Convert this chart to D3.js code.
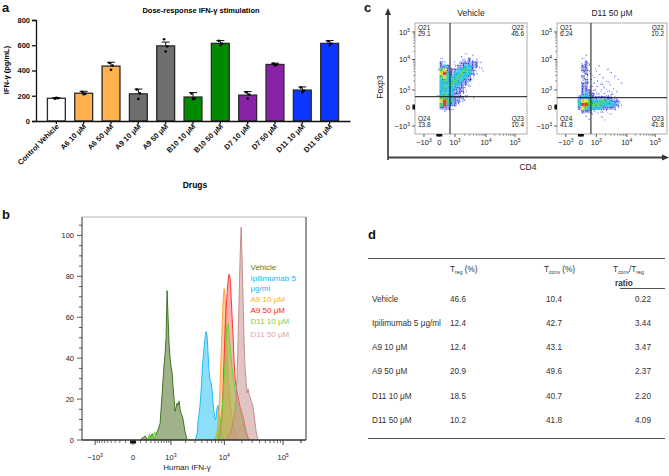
<!DOCTYPE html>
<html><head><meta charset="utf-8">
<script src="https://cdn.jsdelivr.net/npm/d3@7/dist/d3.min.js"></script>
<style>
html,body{margin:0;padding:0;background:#fff;}
svg{display:block;}
</style></head>
<body>
<svg id="fig" width="669" height="476" font-family="'Liberation Sans', Arial, Helvetica, sans-serif"></svg>
<script>
// ================= DATA =================
// Panel a: dose-response IFN-γ
const drugs = ["Control Vehicle","A6 10 μM","A6 50 μM","A9 10 μM","A9 50 μM","B10 10 μM","B10 50 μM","D7 10 μM","D7 50 μM","D11 10 μM","D11 50 μM"];
const ifnMean = [180,220,435,215,595,190,615,205,448,245,615];
const ifnSem = [5,15,30,38,30,35,22,28,10,25,22];
const ifnReps = [[177,180,183],[232,215,212],[460,440,405],[250,220,175],[648,590,550],[218,178,174],[635,612,598],[228,210,178],[455,448,440],[265,240,228],[632,612,598]];
const ifnTicks = [0,200,400,600,800];

// Panel b: IFN-γ histograms ([IFN-γ value, % of max])
const histNames = ["Vehicle","Ipilimumab 5 μg/ml","A9 10 μM","A9 50 μM","D11 10 μM","D11 50 μM"];
const histVehicle = [[94,0],[178,2],[236,0],[330,3],[377,0],[436,3],[490,5],[554,8],[623,22],[698,37],[737,42],[778,50],[821,73],[865,60],[911,47],[959,40],[1009,36],[1060,33],[1114,26],[1170,20],[1228,14],[1289,16],[1351,18],[1416,17],[1484,19],[1555,15],[1627,13],[1704,12],[1784,10],[1866,7],[1952,4],[2040,2],[2132,0]];
const histIpi = [[3018,0],[3285,3],[3426,9],[3573,13],[3726,17],[3885,24],[4050,33],[4223,40],[4400,45],[4587,50],[4780,53],[4980,51],[5190,42],[5408,33],[5630,29],[5866,28],[6110,24],[6365,18],[6630,13],[6903,10],[7190,11],[7483,16],[7790,17],[8110,12],[8440,7],[9150,2],[9910,0]];
const histA9lo = [[6903,0],[7190,2],[7483,4],[7790,10],[8110,16],[8440,27],[8790,42],[9150,56],[9520,68],[9910,74],[10310,70],[10730,56],[11170,42],[11620,31],[12090,24],[12580,20],[13090,15],[13620,11],[14170,7],[14740,5],[15950,2],[17260,0]];
const histA9hi = [[7790,0],[8440,4],[9150,12],[9520,25],[9910,40],[10310,55],[10730,64],[11170,72],[11620,78],[12090,81],[12580,79],[13090,70],[13620,60],[14170,50],[14740,38],[15320,30],[15950,26],[17260,21],[18680,16],[20200,13],[21860,9],[23640,4],[25570,1],[27660,0]];
const histD11lo = [[236,0],[262,3],[290,0],[400,4],[430,0],[6630,0],[7790,3],[8440,8],[9150,15],[9520,22],[9910,30],[10310,38],[10730,47],[11170,55],[11620,57],[12090,52],[12580,45],[13090,40],[13620,35],[14740,28],[15950,21],[17260,16],[18680,14],[20200,10],[21860,6],[23640,2],[25570,0]];
const histD11hi = [[10730,0],[12580,3],[14170,8],[15320,14],[15950,20],[16600,32],[17260,50],[17960,70],[18680,90],[19430,104],[20200,88],[21020,68],[21860,47],[22740,35],[23640,28],[24600,23],[25570,25],[26610,22],[27660,21],[28780,19],[29900,18],[31100,16],[32360,12],[33660,8],[34990,4],[36400,2],[37840,0]];
const bTickVals = [-1000,0,1000,10000,100000];
const bTickLabels = ["−10^3","0","10^3","10^4","10^5"];
const bYTicks = [0,20,40,60,80,100];

// Panel c: CD4 vs Foxp3 density (display channels 0-1024, 32x32 bins; 1 sparse .. 6 densest)
const cTitles = ["Vehicle","D11 50 μM"];
const cGridVehicle = [
"................................","................................","................................","................................",
"................................","................................","................................","................................",
"..............1.................",".............1..1...............",".......1.....11211..............",".......21..11222221.............",
".......232.12233221.............","......145222334321.1............",".......56323343321..............",".......4533343321...............",
".......3433433221...............",".......333433221................",".......343332211................",".......33332221.................",
"......134332211.................",".......44332221.1...............",".......56432211.................",".......463221...................",
".......2221.....................","........1.......................","................................","................................",
"................................","................................","................................","................................"];
const cGridD11 = [
"................................","................................","................................","................................",
"................................","................................","................................","................................",
"................................","........1.......................",".......11.......................",".......121......................",
".......221..1...................",".......221.1..1.................",".......121..1..1................",".......21.1..1..1...............",
".......121.1..1..1..............",".......2211.11.1..1.............",".......22111.1..1...............",".......222111.11.1..............",
"......12322111111...............","......233322222211..............","......3554333433221.............","......3664444333321.............",
"......254333322221..............",".......22211111.................","........1.1.1..1................",".........1...1..................",
"................................","................................","................................","................................"];
const cGateX = [320,316];
const cGateY = [344,335];
const cQuadNames = ["Q21","Q22","Q23","Q24"];
const cQuadVals = [["29.1","46.6","10.4","13.8"],["6.24","10.2","41.8","41.8"]];
const cXTickCh = [82,222,366,649,914];
const cYTickCh = [74,249,406,687,941];
const cTickLabels = ["−10^3","0","10^3","10^4","10^5"];

// Panel d: table
const tblRows = ["Vehicle","Ipilimumab 5 μg/ml","A9 10 μM","A9 50 μM","D11 10 μM","D11 50 μM"];
const tregPct = ["46.6","12.4","12.4","20.9","18.5","10.2"];
const tconvPct = ["10.4","42.7","43.1","49.6","40.7","41.8"];
const ratioVals = ["0.22","3.44","3.47","2.37","2.20","4.09"];

// ================= DRAWING =================
const svg = d3.select("#fig");
function panelLabel(t,x,y){ svg.append("text").attr("x",x).attr("y",y).attr("font-size",13).attr("font-weight","bold").attr("fill","#111").text(t); }
function sciLabel(sel, lab, supSize){
  const m = lab.match(/^(.*10)\^(\d)$/);
  if(!m){ sel.text(lab); return; }
  sel.append("tspan").text(m[1]);
  sel.append("tspan").attr("dy",-3).attr("font-size",supSize).text(m[2]);
}
panelLabel("a",2,12); panelLabel("b",2,219); panelLabel("c",364,12); panelLabel("d",368,239);

// ---------- Panel a ----------
const barColors = ["#ffffff","#ffb04f","#ffb04f","#6e6e6e","#6e6e6e","#008a00","#008a00","#8a22a8","#8a22a8","#0a36ff","#0a36ff"];
const ga = svg.append("g");
const xa = d3.scaleBand().domain(drugs).range([36,350]).paddingInner(0.345).paddingOuter(0.418);
const ya = d3.scaleLinear().domain([0,800]).range([121,20]);
ga.selectAll("rect.bar").data(drugs).join("rect").attr("class","bar")
  .attr("x",d=>xa(d)).attr("width",xa.bandwidth())
  .attr("y",(d,i)=>ya(ifnMean[i])).attr("height",(d,i)=>ya(0)-ya(ifnMean[i]))
  .attr("fill",(d,i)=>barColors[i]).attr("stroke","#2a2a2a").attr("stroke-width",1.3);
const jit = [-1.6,1.6,0];
drugs.forEach((d,i)=>{
  const cx = xa(d)+xa.bandwidth()/2, top = ya(ifnMean[i]+ifnSem[i]);
  ga.append("line").attr("x1",cx).attr("x2",cx).attr("y1",ya(ifnMean[i])).attr("y2",top).attr("stroke","#111").attr("stroke-width",1);
  ga.append("line").attr("x1",cx-4).attr("x2",cx+4).attr("y1",top).attr("y2",top).attr("stroke","#111").attr("stroke-width",1);
  ifnReps[i].forEach((v,j)=> ga.append("circle").attr("cx",cx+jit[j]).attr("cy",ya(v)).attr("r",1.3).attr("fill","#000"));
});
const ayAxis = ga.append("g").attr("transform","translate(36,0)")
  .call(d3.axisLeft(ya).tickValues(ifnTicks).tickSize(4).tickPadding(2));
ayAxis.selectAll("text").attr("font-size",7.5).attr("font-weight","bold").attr("font-family","'Liberation Sans', Arial, sans-serif").attr("fill","#111");
ayAxis.selectAll("line,path").attr("stroke","#111").attr("stroke-width",1.3);
const axAxis = ga.append("g").attr("transform","translate(0,121)")
  .call(d3.axisBottom(xa).tickSize(3).tickSizeOuter(0).tickFormat(""));
axAxis.selectAll("line,path").attr("stroke","#111").attr("stroke-width",1.3);
drugs.forEach(d=>{
  const cx = xa(d)+xa.bandwidth()/2;
  ga.append("text").attr("transform",`translate(${cx+3},127) rotate(-45)`).attr("text-anchor","end")
    .attr("font-size",7.5).attr("font-weight","bold").attr("fill","#111").text(d);
});
ga.append("text").attr("x",195).attr("y",188).attr("text-anchor","middle").attr("font-size",8.5).attr("font-weight","bold").text("Drugs");
ga.append("text").attr("x",201).attr("y",13).attr("text-anchor","middle").attr("font-size",7.5).attr("font-weight","bold").text("Dose-response IFN-γ stimulation");
ga.append("text").attr("transform","translate(9,70) rotate(-90)").attr("text-anchor","middle").attr("font-size",7.5).attr("font-weight","bold").text("IFN-γ (pg/mL)");

// ---------- Panel b ----------
const gb = svg.append("g");
const bx0=82,bx1=306,by0=217,by1=440;
const xb = d3.scaleSymlog().constant(300).domain([-1866,243000]).range([bx0,bx1]);
const yb = d3.scaleLinear().domain([0,109]).range([by1,by0]);
svg.append("defs").append("clipPath").attr("id","clipb").append("rect").attr("x",bx0).attr("y",by0).attr("width",bx1-bx0).attr("height",by1-by0);
const histSeries = [
  {data:histVehicle, stroke:"#2f6b10", fill:"#5f7f3c", op:0.6},
  {data:histIpi,     stroke:"#12b4ee", fill:"#2cc4f5", op:0.55},
  {data:histA9lo,    stroke:"#ff9a2a", fill:"#ffa848", op:0.55},
  {data:histA9hi,    stroke:"#ff2323", fill:"#ff5050", op:0.45},
  {data:histD11lo,   stroke:"#55e02a", fill:"#8ed24e", op:0.55},
  {data:histD11hi,   stroke:"#c08585", fill:"#c99494", op:0.55}
];
const legendColors = ["#4a7d2a","#19b5ec","#ffb020","#ff1a1a","#80d040","#e4a4a4"];
const areaB = d3.area().x(d=>xb(d[0])).y0(yb(0)).y1(d=>yb(d[1]));
const hg = gb.append("g").attr("clip-path","url(#clipb)");
histSeries.forEach(s=>{
  hg.append("path").attr("d",areaB(s.data)).attr("fill",s.fill).attr("fill-opacity",s.op)
    .attr("stroke",s.stroke).attr("stroke-width",0.9).attr("stroke-linejoin","round");
});
// frame
gb.append("line").attr("x1",bx0).attr("x2",bx1).attr("y1",by0).attr("y2",by0).attr("stroke","#999").attr("stroke-width",0.7);
gb.append("line").attr("x1",bx1).attr("x2",bx1).attr("y1",by0).attr("y2",by1).attr("stroke","#777").attr("stroke-width",1.5);
gb.append("line").attr("x1",bx0).attr("x2",bx1).attr("y1",by1).attr("y2",by1).attr("stroke","#333").attr("stroke-width",1.3);
gb.append("line").attr("x1",bx0).attr("x2",bx0).attr("y1",by0).attr("y2",by1).attr("stroke","#333").attr("stroke-width",1);
// y ticks
d3.range(0,110,5).forEach(v=>{
  const major = v%20===0;
  gb.append("line").attr("x1",bx0-(major?5:3)).attr("x2",bx0).attr("y1",yb(v)).attr("y2",yb(v)).attr("stroke","#333").attr("stroke-width",0.8);
});
bYTicks.forEach(v=> gb.append("text").attr("x",bx0-8).attr("y",yb(v)+2.6).attr("text-anchor","end").attr("font-size",7.5).attr("fill","#222").text(v));
// x ticks
const minorB = [];
[100,1000,10000,100000].forEach(dec=>{ for(let m=2;m<=9;m++){ minorB.push(m*dec); if(dec<1000) minorB.push(-m*dec);} });
[-100,100,200000].forEach(v=>minorB.push(v));
minorB.filter(v=>v>=-1866&&v<=243000).forEach(v=>{
  gb.append("line").attr("x1",xb(v)).attr("x2",xb(v)).attr("y1",by1).attr("y2",by1+3).attr("stroke","#333").attr("stroke-width",0.7);
});
bTickVals.forEach((v,i)=>{
  gb.append("line").attr("x1",xb(v)).attr("x2",xb(v)).attr("y1",by1).attr("y2",by1+5).attr("stroke","#333").attr("stroke-width",0.9);
  sciLabel(gb.append("text").attr("x",xb(v)).attr("y",460).attr("text-anchor","middle").attr("font-size",7.5).attr("fill","#222"), bTickLabels[i], 5.2);
});
gb.append("rect").attr("x",xb(0)-3).attr("y",by1+0.5).attr("width",6).attr("height",3).attr("fill","#111");
gb.append("text").attr("x",187).attr("y",470).attr("text-anchor","middle").attr("font-size",8).attr("fill","#222").text("Human IFN-γ");
// legend
const legY = [270,280.5,302,313,323.5,336.5];
histNames.forEach((n,i)=>{
  if(i===1){
    gb.append("text").attr("x",250.5).attr("y",legY[1]).attr("font-size",8).attr("fill",legendColors[1]).text("Ipilimumab 5");
    gb.append("text").attr("x",250.5).attr("y",291).attr("font-size",8).attr("fill",legendColors[1]).text("μg/ml");
  } else {
    gb.append("text").attr("x",250.5).attr("y",legY[i]).attr("font-size",8).attr("fill",legendColors[i]).text(n);
  }
});

// ---------- Panel c ----------
const gc = svg.append("g");
const cBoxes = [{x:415,y:23,w:112,h:111},{x:557,y:23,w:110,h:111}];
const densColors = {"3":"#22c2e2","4":"#44d25a","5":"#f0e22c","6":"#e6321e"};
const speck = [[0.3,0.4],[2.2,2.0],[1.1,2.6],[2.6,0.5],[0.4,1.7],[1.7,1.1],[2.8,2.8],[0.9,0.2]];
const cGrids = [cGridVehicle,cGridD11];
cBoxes.forEach((b,k)=>{
  const g = gc.append("g");
  const xc = d3.scaleLinear().domain([0,1024]).range([b.x,b.x+b.w]);
  const yc = d3.scaleLinear().domain([0,1024]).range([b.y+b.h,b.y]);
  g.append("rect").attr("x",b.x).attr("y",b.y).attr("width",b.w).attr("height",b.h).attr("fill","#fff").attr("stroke","#9a9a9a").attr("stroke-width",0.8);
  const grid = cGrids[k];
  grid.forEach((row,r)=>{
    for(let c=0;c<row.length;c++){
      const ch=row[c]; if(ch===".") continue;
      const x0=xc(c*32), x1=xc(c*32+32), y0=yc(1024-r*32), y1=yc(1024-(r+1)*32);
      if(ch==="1"){
        const a = speck[(r*5+c*3)%8], bb = speck[(r*3+c*7+4)%8];
        g.append("rect").attr("x",x0+a[0]).attr("y",y0+a[1]).attr("width",0.9).attr("height",0.9).attr("fill","#3448e0");
        g.append("rect").attr("x",x0+bb[0]).attr("y",y0+bb[1]).attr("width",0.9).attr("height",0.9).attr("fill","#7080f0");
      } else if(ch==="2"){
        g.append("rect").attr("x",x0).attr("y",y0).attr("width",x1-x0).attr("height",y1-y0).attr("fill","#4a5ce6").attr("fill-opacity",0.45);
        for(let s=0;s<3;s++){ const p = speck[(r*5+c*3+s*3)%8];
          g.append("rect").attr("x",x0+p[0]).attr("y",y0+p[1]).attr("width",1).attr("height",1).attr("fill","#1525c8"); }
      } else {
        g.append("rect").attr("x",x0).attr("y",y0).attr("width",x1-x0+0.2).attr("height",y1-y0+0.2)
          .attr("fill",densColors[ch]).attr("fill-opacity",0.92);
        const p = speck[(r*3+c*5)%8];
        g.append("rect").attr("x",x0+p[0]).attr("y",y0+p[1]).attr("width",1).attr("height",1).attr("fill","#2d48d8").attr("fill-opacity",0.6);
      }
    }
  });
  // gates
  g.append("line").attr("x1",xc(cGateX[k])).attr("x2",xc(cGateX[k])).attr("y1",b.y).attr("y2",b.y+b.h).attr("stroke","#111").attr("stroke-width",1);
  g.append("line").attr("x1",b.x).attr("x2",b.x+b.w).attr("y1",yc(cGateY[k])).attr("y2",yc(cGateY[k])).attr("stroke","#111").attr("stroke-width",1);
  // quadrant labels
  const q = cQuadVals[k], fs=6.5, col="#222";
  g.append("text").attr("x",b.x+3).attr("y",b.y+7).attr("font-size",fs).attr("fill",col).text(cQuadNames[0]);
  g.append("text").attr("x",b.x+3).attr("y",b.y+13).attr("font-size",fs).attr("fill",col).text(q[0]);
  g.append("text").attr("x",b.x+b.w-3).attr("y",b.y+7).attr("text-anchor","end").attr("font-size",fs).attr("fill",col).text(cQuadNames[1]);
  g.append("text").attr("x",b.x+b.w-3).attr("y",b.y+13).attr("text-anchor","end").attr("font-size",fs).attr("fill",col).text(q[1]);
  g.append("text").attr("x",b.x+b.w-3).attr("y",b.y+b.h-13).attr("text-anchor","end").attr("font-size",fs).attr("fill",col).text(cQuadNames[2]);
  g.append("text").attr("x",b.x+b.w-3).attr("y",b.y+b.h-7.5).attr("text-anchor","end").attr("font-size",fs).attr("fill",col).text(q[2]);
  g.append("text").attr("x",b.x+3).attr("y",b.y+b.h-13).attr("font-size",fs).attr("fill",col).text(cQuadNames[3]);
  g.append("text").attr("x",b.x+3).attr("y",b.y+b.h-7.5).attr("font-size",fs).attr("fill",col).text(q[3]);
  // title
  g.append("text").attr("x",b.x+b.w/2).attr("y",16).attr("text-anchor","middle").attr("font-size",8.5).attr("fill","#222").text(cTitles[k]);
  // y ticks
  cYTickCh.forEach((v,i)=>{
    g.append("line").attr("x1",b.x-3).attr("x2",b.x).attr("y1",yc(v)).attr("y2",yc(v)).attr("stroke","#333").attr("stroke-width",0.8);
    sciLabel(g.append("text").attr("x",b.x-5).attr("y",yc(v)+2.8).attr("text-anchor","end").attr("font-size",7.5).attr("fill","#222"), cTickLabels[i], 5);
  });
  for(let i=2;i<4;i++){ for(let m=2;m<=9;m++){ const v=cYTickCh[i]+(cYTickCh[i+1]-cYTickCh[i])*Math.log10(m);
    g.append("line").attr("x1",b.x-1.8).attr("x2",b.x).attr("y1",yc(v)).attr("y2",yc(v)).attr("stroke","#555").attr("stroke-width",0.6);} }
  g.append("rect").attr("x",b.x-2.5).attr("y",yc(cYTickCh[1])-2.5).attr("width",2.5).attr("height",5).attr("fill","#111");
  // x ticks
  cXTickCh.forEach((v,i)=>{
    g.append("line").attr("x1",xc(v)).attr("x2",xc(v)).attr("y1",b.y+b.h).attr("y2",b.y+b.h+3).attr("stroke","#333").attr("stroke-width",0.8);
    sciLabel(g.append("text").attr("x",xc(v)).attr("y",b.y+b.h+11).attr("text-anchor","middle").attr("font-size",7.5).attr("fill","#222"), cTickLabels[i], 5);
  });
  for(let i=2;i<4;i++){ for(let m=2;m<=9;m++){ const v=cXTickCh[i]+(cXTickCh[i+1]-cXTickCh[i])*Math.log10(m);
    g.append("line").attr("x1",xc(v)).attr("x2",xc(v)).attr("y1",b.y+b.h).attr("y2",b.y+b.h+1.8).attr("stroke","#555").attr("stroke-width",0.6);} }
  g.append("rect").attr("x",xc(cXTickCh[1])-3).attr("y",b.y+b.h).attr("width",6).attr("height",2.5).attr("fill","#111");
});
// big axes with arrows
gc.append("line").attr("x1",388).attr("x2",388).attr("y1",160).attr("y2",14).attr("stroke","#333").attr("stroke-width",1.6);
gc.append("path").attr("d","M388,8 L385,15 L391,15 Z").attr("fill","#333");
gc.append("line").attr("x1",388).attr("x2",663).attr("y1",157.5).attr("y2",157.5).attr("stroke","#444").attr("stroke-width",1.8);
gc.append("path").attr("d","M669,157.5 L662,154.5 L662,160.5 Z").attr("fill","#333");
gc.append("text").attr("transform","translate(383,87) rotate(-90)").attr("text-anchor","middle").attr("font-size",8.5).attr("fill","#222").text("Foxp3");
gc.append("text").attr("x",528).attr("y",170).attr("text-anchor","middle").attr("font-size",8.5).attr("fill","#222").text("CD4");

// ---------- Panel d ----------
const gd = svg.append("g").attr("fill","#333");
const tx0=368, tx1=665;
gd.append("line").attr("x1",tx0).attr("x2",tx1).attr("y1",258.5).attr("y2",258.5).attr("stroke","#555").attr("stroke-width",1.2);
gd.append("line").attr("x1",620).attr("x2",tx1).attr("y1",288.5).attr("y2",288.5).attr("stroke","#555").attr("stroke-width",1.2);
gd.append("line").attr("x1",tx0).attr("x2",tx1).attr("y1",438.5).attr("y2",438.5).attr("stroke","#555").attr("stroke-width",1.2);
function subHeader(x,y,parts){
  const t = gd.append("text").attr("x",x).attr("y",y).attr("font-size",8.2);
  parts.forEach(p=>{ const s=t.append("tspan").text(p[0]); if(p[1]==="sub") s.attr("font-size",5.2).attr("dy",1.8); else if(p[1]==="up") s.attr("dy",-1.8); });
}
subHeader(450,272,[["T"],["reg","sub"],[" (%)","up"]]);
subHeader(544,272,[["T"],["conv","sub"],[" (%)","up"]]);
subHeader(613,272,[["T"],["conv","sub"],["/T","up"],["reg","sub"]]);
gd.append("text").attr("x",615).attr("y",286).attr("font-size",8.2).attr("font-weight","bold").text("ratio");
const yd = d3.scalePoint().domain(tblRows).range([301.5,423]);
tblRows.forEach((r,i)=>{
  const y = yd(r);
  gd.append("text").attr("x",372).attr("y",y).attr("font-size",8.2).text(r);
  gd.append("text").attr("x",450).attr("y",y).attr("font-size",8.2).text(tregPct[i]);
  gd.append("text").attr("x",554).attr("y",y).attr("text-anchor","middle").attr("font-size",8.2).text(tconvPct[i]);
  gd.append("text").attr("x",643).attr("y",y).attr("text-anchor","middle").attr("font-size",8.2).text(ratioVals[i]);
});
</script>
</body></html>
